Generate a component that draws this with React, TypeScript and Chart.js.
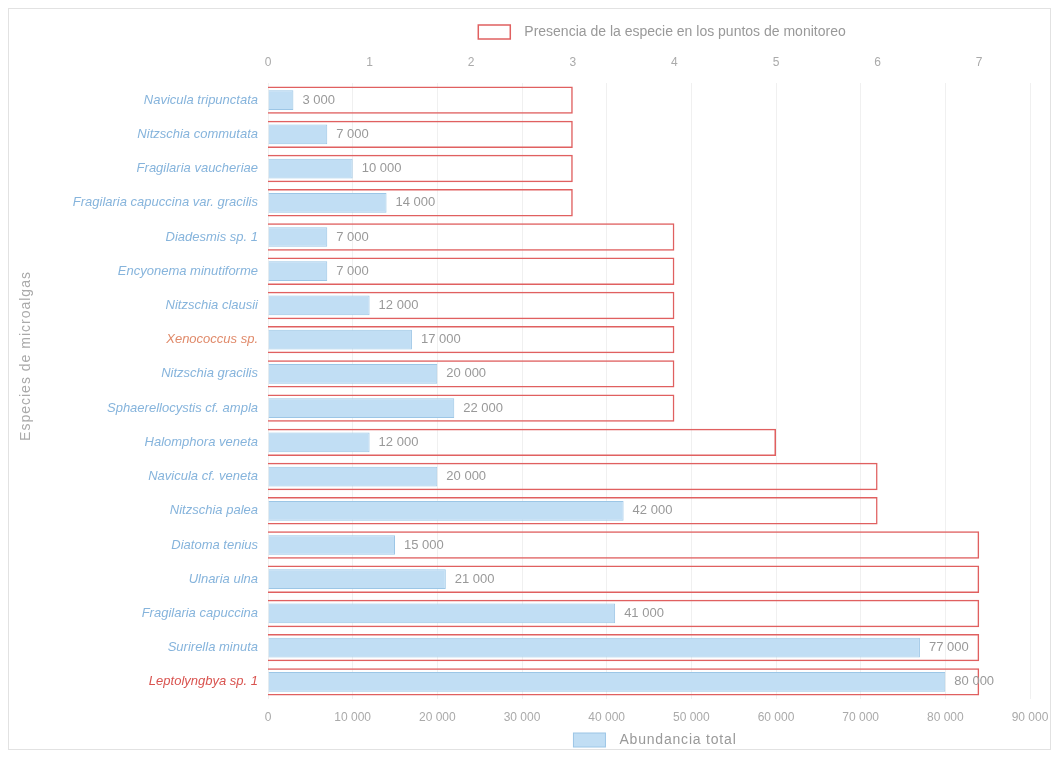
import React, { useEffect, useRef } from 'react';
import { Chart, registerables } from 'chart.js';

Chart.register(...registerables);

const categories = [
  'Navicula tripunctata',
  'Nitzschia commutata',
  'Fragilaria vaucheriae',
  'Fragilaria capuccina var. gracilis',
  'Diadesmis sp. 1',
  'Encyonema minutiforme',
  'Nitzschia clausii',
  'Xenococcus sp.',
  'Nitzschia gracilis',
  'Sphaerellocystis cf. ampla',
  'Halomphora veneta',
  'Navicula cf. veneta',
  'Nitzschia palea',
  'Diatoma tenius',
  'Ulnaria ulna',
  'Fragilaria capuccina',
  'Surirella minuta',
  'Leptolyngbya sp. 1',
];

const presence = [3, 3, 3, 3, 4, 4, 4, 4, 4, 4, 5, 6, 6, 7, 7, 7, 7, 7];

const abundance = [
  3000, 7000, 10000, 14000, 7000, 7000, 12000, 17000, 20000, 22000, 12000, 20000, 42000,
  15000, 21000, 41000, 77000, 80000,
];

const labelColors = [
  '#86b4dc', '#86b4dc', '#86b4dc', '#86b4dc', '#86b4dc', '#86b4dc', '#86b4dc', '#e08a6a',
  '#86b4dc', '#86b4dc', '#86b4dc', '#86b4dc', '#86b4dc', '#86b4dc', '#86b4dc', '#86b4dc',
  '#86b4dc', '#d9534f',
];

const presenceLabel = 'Presencia de la especie en los puntos de monitoreo';
const abundanceLabel = 'Abundancia total';
const yTitle = 'Especies de microalgas';

const RED = '#e06060';
const BLUE_FILL = 'rgba(190, 220, 243, 0.95)';
const BLUE_BORDER = '#9cc6e6';
const FONT = "'Liberation Sans', Arial, sans-serif";

const fmt = (v: number) => String(v).replace(/\B(?=(\d{3})+(?!\d))/g, ' ');

const noSidePadding = (s: any) => {
  s.paddingLeft = 0;
  s.paddingRight = 0;
};

const extrasPlugin = {
  id: 'extras',
  afterDatasetsDraw(chart: any) {
    const ctx = chart.ctx;
    const meta = chart.getDatasetMeta(1);
    ctx.save();
    ctx.font = `13px ${FONT}`;
    ctx.fillStyle = '#999';
    ctx.textAlign = 'left';
    ctx.textBaseline = 'middle';
    meta.data.forEach((el: any, i: number) => {
      ctx.fillText(fmt(abundance[i]), el.x + 9, el.y);
    });
    ctx.restore();
  },
  afterDraw(chart: any) {
    const ctx = chart.ctx;
    const area = chart.chartArea;
    const cx = (area.left + area.right) / 2;
    ctx.save();
    ctx.font = `14px ${FONT}`;
    ctx.textBaseline = 'middle';
    ctx.textAlign = 'left';
    const drawLegend = (
      text: string,
      centerX: number,
      y: number,
      fill: string,
      stroke: string,
      lw: number,
      spacing: number
    ) => {
      (ctx as any).letterSpacing = `${spacing}px`;
      const tw = ctx.measureText(text).width;
      const total = 32 + 14 + tw;
      const x0 = centerX - total / 2;
      ctx.fillStyle = fill;
      ctx.fillRect(x0, y - 7, 32, 14);
      ctx.strokeStyle = stroke;
      ctx.lineWidth = lw;
      ctx.strokeRect(x0, y - 7, 32, 14);
      ctx.fillStyle = '#999';
      ctx.fillText(text, x0 + 46, y);
    };
    drawLegend(presenceLabel, cx + 13, 23, '#ffffff', RED, 1.5, 0);
    drawLegend(abundanceLabel, cx + 6, chart.height - 9, BLUE_FILL, BLUE_BORDER, 1, 0.8);

    // y axis title
    ctx.translate(17, 347);
    ctx.rotate(-Math.PI / 2);
    ctx.textAlign = 'center';
    ctx.font = `14px ${FONT}`;
    (ctx as any).letterSpacing = '1px';
    ctx.fillStyle = '#aaa';
    ctx.fillText(yTitle, 0, 0);
    ctx.restore();
  },
};

export default function App() {
  const ref = useRef<HTMLCanvasElement | null>(null);

  useEffect(() => {
    if (!ref.current) return;
    const chart = new Chart(ref.current, {
      type: 'bar',
      data: {
        labels: categories,
        datasets: [
          {
            label: presenceLabel,
            data: presence,
            xAxisID: 'x2',
            backgroundColor: 'rgba(255,255,255,0)',
            borderColor: RED,
            borderWidth: 1.5,
            grouped: false,
            categoryPercentage: 0.8,
            barPercentage: 1,
          } as any,
          {
            label: abundanceLabel,
            data: abundance,
            xAxisID: 'x',
            backgroundColor: BLUE_FILL,
            borderColor: BLUE_BORDER,
            borderWidth: 1,
            grouped: false,
            categoryPercentage: 0.8,
            barPercentage: 0.72,
          } as any,
        ],
      },
      options: {
        indexAxis: 'y',
        animation: false,
        responsive: true,
        maintainAspectRatio: false,
        layout: { padding: { top: 33.6, right: 20, bottom: 13.6, left: 0 } },
        plugins: {
          legend: { display: false },
          tooltip: { enabled: false },
        },
        scales: {
          x: {
            position: 'bottom',
            min: 0,
            max: 90000,
            ticks: {
              stepSize: 10000,
              color: '#aaa',
              font: { family: FONT, size: 12 },
              callback: (v: any) => fmt(Number(v)),
              padding: 11,
            },
            grid: { color: '#f0f0f0', drawTicks: false },
            border: { display: false },
            afterFit: noSidePadding,
          },
          x2: {
            position: 'top',
            min: 0,
            max: 7.5,
            ticks: {
              stepSize: 1,
              color: '#aaa',
              font: { family: FONT, size: 12 },
              padding: 13,
              callback: (v: any) => (Number.isInteger(Number(v)) ? String(v) : ''),
            },
            grid: { display: false, drawTicks: false },
            border: { display: false },
            afterFit: noSidePadding,
          },
          y: {
            ticks: {
              color: (c: any) => labelColors[c.index] || '#86b4dc',
              font: { family: FONT, size: 13, style: 'italic' },
              padding: 10,
            },
            grid: { display: false, drawTicks: false },
            border: { display: false },
            afterFit: (s: any) => {
              s.width = 259;
              s.paddingTop = 0;
              s.paddingBottom = 0;
            },
          },
        },
      },
      plugins: [extrasPlugin],
    });
    return () => chart.destroy();
  }, []);

  return (
    <div
      style={{
        width: 1041,
        height: 740,
        position: 'relative',
        border: '1px solid #e2e2e2',
        background: '#fff',
      }}
    >
      <canvas ref={ref} />
    </div>
  );
}
